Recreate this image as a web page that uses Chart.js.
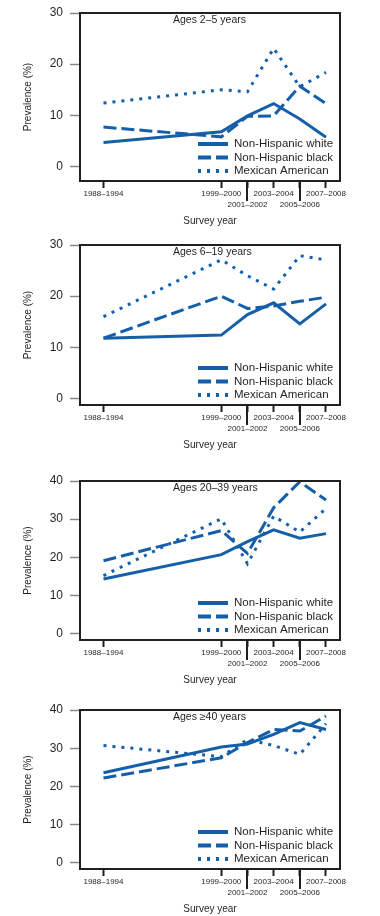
<!DOCTYPE html>
<html>
<head>
<meta charset="utf-8">
<script src="https://cdn.jsdelivr.net/npm/chart.js@4.4.1/dist/chart.umd.min.js"></script>
<style>
html,body{margin:0;padding:0;background:#fff;}
body{width:380px;height:916px;position:relative;overflow:hidden;}
.panel{position:absolute;left:0;width:380px;}
canvas{display:block;}
</style>
</head>
<body>
<div class="panel" style="top:0px"><canvas id="c1" width="380" height="227"></canvas></div>
<div class="panel" style="top:232px"><canvas id="c2" width="380" height="219"></canvas></div>
<div class="panel" style="top:468px"><canvas id="c3" width="380" height="218"></canvas></div>
<div class="panel" style="top:697px"><canvas id="c4" width="380" height="218"></canvas></div>
<script>
// ---- data ----
const surveyPeriods = ['1988–1994', '1999–2000', '2001–2002', '2003–2004', '2005–2006', '2007–2008'];
const periodMidYears = [1991, 2000, 2002, 2004, 2006, 2008];
const staggeredLabels = [false, false, true, false, true, false];
const seriesNames = ['Non-Hispanic white', 'Non-Hispanic black', 'Mexican American'];
const panelTitles = ['Ages 2–5 years', 'Ages 6–19 years', 'Ages 20–39 years', 'Ages ≥40 years'];
const yTicks30 = [0, 10, 20, 30];
const yTicks40 = [0, 10, 20, 30, 40];

const white2to5 = [4.7, 6.8, 9.9, 12.3, 9.3, 5.7];
const black2to5 = [7.7, 5.8, 9.8, 9.9, 15.7, 12.3];
const mexican2to5 = [12.4, 15.0, 14.6, 23.1, 15.6, 18.4];

const white6to19 = [11.8, 12.4, 16.4, 18.7, 14.6, 18.5];
const black6to19 = [11.8, 20.0, 17.6, 18.1, 19.0, 19.8];
const mexican6to19 = [16.0, 27.1, 24.0, 21.4, 27.9, 27.1];

const white20to39 = [14.3, 20.7, 24.1, 27.2, 25.0, 26.2];
const black20to39 = [19.1, 27.0, 21.0, 33.0, 39.8, 35.0];
const mexican20to39 = [15.2, 30.1, 18.3, 30.8, 26.6, 32.8];

const white40plus = [23.6, 30.3, 31.1, 33.6, 36.7, 34.9];
const black40plus = [22.2, 27.5, 31.5, 34.9, 34.5, 38.4];
const mexican40plus = [30.7, 27.8, 32.3, 30.7, 28.4, 36.4];

// ---- styles ----
const lineBlue = '#155fa9';
const textColor = '#231f20';
const frameColor = '#231f20';
const fontFamily = '"Liberation Sans", Arial, sans-serif';
const lineStyles = [[], [13, 5], [3, 6]];

const panels = [
  {id: 'c1', title: panelTitles[0], series: [white2to5, black2to5, mexican2to5], yMin: -2.83, yMax: 30, yTicks: yTicks30},
  {id: 'c2', title: panelTitles[1], series: [white6to19, black6to19, mexican6to19], yMin: -1.26, yMax: 30, yTicks: yTicks30},
  {id: 'c3', title: panelTitles[2], series: [white20to39, black20to39, mexican20to39], yMin: -1.69, yMax: 40, yTicks: yTicks40},
  {id: 'c4', title: panelTitles[3], series: [white40plus, black40plus, mexican40plus], yMin: -1.59, yMax: 40, yTicks: yTicks40}
];

const panelDecor = {
  id: 'panelDecor',
  afterDraw(chart, args, opts) {
    const ctx = chart.ctx;
    const a = chart.chartArea;
    const x = chart.scales.x;
    ctx.save();
    // frame
    ctx.strokeStyle = frameColor;
    ctx.lineWidth = 2;
    ctx.strokeRect(a.left, a.top, a.right - a.left, a.bottom - a.top);
    // long ticks for staggered labels
    ctx.beginPath();
    periodMidYears.forEach((v, i) => {
      if (staggeredLabels[i]) {
        const px = Math.round(x.getPixelForValue(v));
        ctx.moveTo(px, a.bottom);
        ctx.lineTo(px, a.bottom + 20);
      }
    });
    ctx.stroke();
    // panel title
    ctx.fillStyle = textColor;
    ctx.textBaseline = 'middle';
    ctx.textAlign = 'left';
    ctx.font = '10.5px ' + fontFamily;
    ctx.fillText(opts.title, a.left + 93, a.top + 7.5);
    // legend
    ctx.font = '11.5px ' + fontFamily;
    chart.data.datasets.forEach((ds, i) => {
      const y = a.bottom - 37 + i * 13.5;
      ctx.strokeStyle = ds.borderColor;
      ctx.lineWidth = 4;
      ctx.setLineDash(ds.borderDash || []);
      ctx.beginPath();
      ctx.moveTo(a.right - 142, y);
      ctx.lineTo(a.right - 112, y);
      ctx.stroke();
      ctx.setLineDash([]);
      ctx.fillText(ds.label, a.right - 106, y);
    });
    ctx.restore();
  }
};

panels.forEach(p => {
  const datasets = p.series.map((vals, i) => ({
    label: seriesNames[i],
    data: vals.map((v, j) => ({x: periodMidYears[j], y: v})),
    borderColor: lineBlue,
    borderWidth: 3,
    borderDash: lineStyles[i],
    pointRadius: 0,
    tension: 0,
    fill: false
  }));
  new Chart(document.getElementById(p.id), {
    type: 'line',
    data: {datasets},
    plugins: [panelDecor],
    options: {
      responsive: false,
      animation: false,
      devicePixelRatio: 1,
      layout: {padding: {top: 7, left: 0, right: 40, bottom: 0}},
      plugins: {
        legend: {display: false},
        tooltip: {enabled: false},
        panelDecor: {title: p.title}
      },
      scales: {
        x: {
          type: 'linear',
          min: 1989.205,
          max: 2009.07,
          afterBuildTicks: s => { s.ticks = periodMidYears.map(v => ({value: v})); },
          afterFit: s => { s.height = 46; },
          ticks: {
            autoSkip: false,
            maxRotation: 0,
            minRotation: 0,
            padding: 0.5,
            color: textColor,
            font: {family: fontFamily, size: 8, lineHeight: 11 / 8},
            callback: (v) => {
              const i = periodMidYears.indexOf(v);
              if (i < 0) return '';
              return staggeredLabels[i] ? ['', surveyPeriods[i]] : surveyPeriods[i];
            }
          },
          grid: {drawOnChartArea: false, drawTicks: true, tickLength: 7, tickColor: frameColor, tickWidth: 2},
          border: {display: true, color: frameColor, width: 2},
          title: {display: true, text: 'Survey year', color: textColor, padding: 0, font: {family: fontFamily, size: 10, lineHeight: 1.2}}
        },
        y: {
          min: p.yMin,
          max: p.yMax,
          afterBuildTicks: s => { s.ticks = p.yTicks.map(v => ({value: v})); },
          afterFit: s => { s.width = 80; },
          ticks: {padding: 7, color: textColor, font: {family: fontFamily, size: 12, lineHeight: 1}},
          grid: {drawOnChartArea: false, drawTicks: true, tickLength: 10, tickColor: '#888', tickWidth: 1.5},
          border: {display: true, color: frameColor, width: 2},
          title: {display: true, text: 'Prevalence (%)', color: textColor, padding: {top: 22, bottom: 0}, font: {family: fontFamily, size: 10, lineHeight: 1.2}}
        }
      }
    }
  });
});
</script>
</body>
</html>
